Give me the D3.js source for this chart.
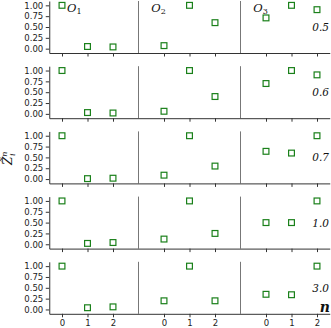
<!DOCTYPE html>
<html>
<head>
<meta charset="utf-8">
<script src="https://cdn.jsdelivr.net/npm/d3@7"></script>
<style>
  body { margin: 0; background: #fff; }
  .axis text { font-family: "DejaVu Sans", sans-serif; font-size: 8.5px; fill: #222; }
  .axis path, .axis line { stroke: #333; stroke-width: 1; }
</style>
</head>
<body>
<svg id="chart" width="331" height="328"></svg>
<script>
// ratio label on the right of each row
var ratios = ["0.5", "0.6", "0.7", "1.0", "3.0"];
var groupNames = ["1", "2", "3"];   // subscripts of the O labels
var states = [0, 1, 2];             // n, repeated in each group

// normalised values per row, one array per group (O1, O2, O3)
var row05 = [[1.00, 0.05, 0.04], [0.07, 1.00, 0.60], [0.71, 1.00, 0.90]];
var row06 = [[1.00, 0.03, 0.02], [0.06, 1.00, 0.40], [0.70, 1.00, 0.90]];
var row07 = [[1.00, 0.01, 0.02], [0.09, 1.00, 0.30], [0.64, 0.60, 1.00]];
var row10 = [[1.00, 0.02, 0.04], [0.12, 1.00, 0.25], [0.50, 0.50, 1.00]];
var row30 = [[1.00, 0.04, 0.06], [0.20, 1.00, 0.20], [0.35, 0.34, 1.00]];
var rows = [row05, row06, row07, row10, row30];

(function () {
    var svg = d3.select("#chart");
    var left = 49.25, right = 329.75;
    var panelH = 52, rowStep = 65.2, top0 = 1;
    var green = "#1a801a";

    var x = d3.scaleLinear().domain([-0.5, 10.5]).range([left, right]);
    var labelX = [0.2, 3.5, 7.5];

    rows.forEach(function (vals, k) {
        var top = top0 + rowStep * k;
        var y = d3.scaleLinear().domain([-0.1, 1.1]).range([top + panelH, top]);
        var g = svg.append("g");

        // group separators
        [3, 7].forEach(function (s) {
            g.append("line")
                .attr("x1", x(s)).attr("x2", x(s))
                .attr("y1", top).attr("y2", top + panelH)
                .attr("stroke", "#777").attr("stroke-width", 1);
        });

        g.append("g")
            .attr("class", "axis")
            .attr("transform", "translate(" + left + ",0)")
            .call(d3.axisLeft(y)
                .tickValues([0, 0.25, 0.5, 0.75, 1])
                .tickFormat(d3.format(".2f"))
                .tickSize(3.5).tickSizeOuter(0).tickPadding(2.5));

        var last = k === rows.length - 1;
        g.append("g")
            .attr("class", "axis")
            .attr("transform", "translate(0," + (top + panelH) + ")")
            .call(d3.axisBottom(x)
                .tickValues([0, 1, 2, 4, 5, 6, 8, 9, 10])
                .tickFormat(function (d) { return last ? String(d % 4) : ""; })
                .tickSize(3.5).tickSizeOuter(0).tickPadding(3));

        // markers
        var pts = [];
        vals.forEach(function (grp, gi) {
            grp.forEach(function (v, i) {
                pts.push({ pos: gi * 4 + states[i], v: v });
            });
        });
        g.selectAll("rect.pt")
            .data(pts)
            .enter().append("rect")
            .attr("class", "pt")
            .attr("x", function (d) { return x(d.pos) - 2.9; })
            .attr("y", function (d) { return y(d.v) - 2.9; })
            .attr("width", 5.8).attr("height", 5.8)
            .attr("fill", "none")
            .attr("stroke", green)
            .attr("stroke-width", 1.2);

        // ratio label
        g.append("text")
            .attr("x", 329).attr("y", y(0.41))
            .attr("text-anchor", "end")
            .attr("font-family", "DejaVu Serif")
            .attr("font-style", "italic")
            .attr("font-size", "10.5px")
            .attr("fill", "#111")
            .text(ratios[k]);

        if (k === 0) {
            groupNames.forEach(function (nm, gi) {
                var t = g.append("text")
                    .attr("x", x(labelX[gi])).attr("y", top + 10.5)
                    .attr("font-family", "DejaVu Serif")
                    .attr("font-style", "italic")
                    .attr("font-size", "11.5px")
                    .attr("fill", "#111");
                t.append("tspan").text("O");
                t.append("tspan").attr("dy", 2).attr("font-size", "8px")
                    .attr("font-style", "normal").text(nm);
            });
        }
        if (last) {
            g.append("text")
                .attr("x", 330).attr("y", top + panelH - 1.5)
                .attr("text-anchor", "end")
                .attr("font-family", "DejaVu Serif")
                .attr("font-style", "italic")
                .attr("font-weight", "bold")
                .attr("font-size", "14px")
                .attr("fill", "#111")
                .text("n");
        }
    });

    // y label
    var yl = svg.append("text")
        .attr("transform", "translate(12,165) rotate(-90)")
        .attr("font-family", "DejaVu Serif")
        .attr("font-style", "italic")
        .attr("font-size", "12px")
        .attr("fill", "#111");
    yl.append("tspan").text("Z\u0303");
    yl.append("tspan").attr("font-size", "8px").attr("dy", -5).text("n");
    yl.append("tspan").attr("font-size", "8px").attr("dx", -4.5).attr("dy", 8).text("i");
})();
</script>
</body>
</html>
